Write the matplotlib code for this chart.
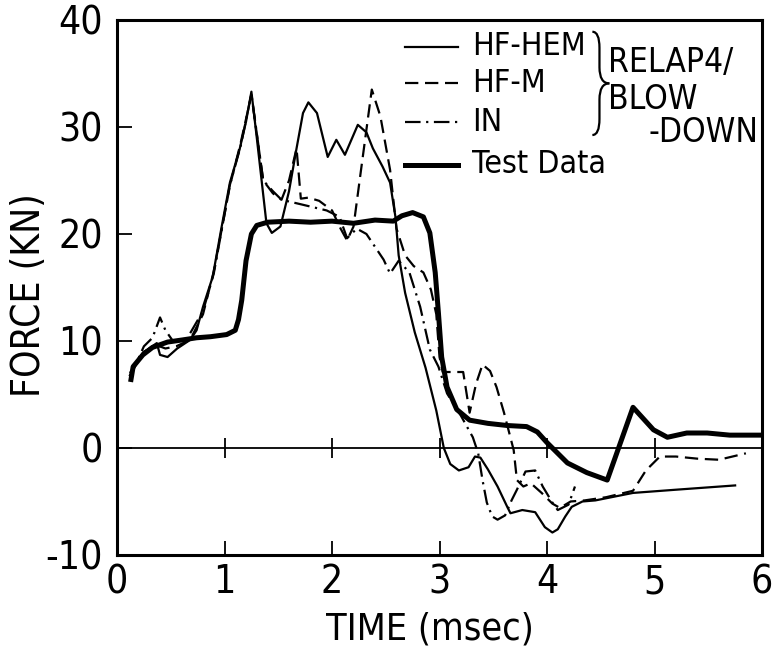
import matplotlib
matplotlib.use('Agg')
import matplotlib.pyplot as plt
from matplotlib.path import Path
from matplotlib.patches import PathPatch

plt.rcParams['font.family'] = ['DejaVu Sans']
plt.rcParams['font.stretch'] = 'condensed'

# HF-HEM (thin solid)
hem_t = [0.12, 0.24, 0.37, 0.40, 0.47, 0.56, 0.68, 0.74, 0.80, 0.89, 0.97, 1.05, 1.14, 1.20, 1.25,
         1.30, 1.39, 1.44, 1.52, 1.60, 1.67, 1.73, 1.78, 1.86, 1.96, 2.04, 2.12, 2.24, 2.32, 2.38,
         2.47, 2.54, 2.59, 2.62, 2.68, 2.77, 2.87, 2.97, 3.04, 3.10, 3.18, 3.27, 3.33, 3.38, 3.45,
         3.54, 3.63, 3.66, 3.77, 3.89, 3.98, 4.05, 4.10, 4.17, 4.23, 4.33, 4.45, 4.80, 5.20, 5.75]
hem_f = [6.8, 8.9, 9.8, 8.7, 8.5, 9.3, 10.1, 11.0, 13.2, 16.0, 20.5, 24.8, 27.9, 30.5, 33.3,
         29.0, 21.0, 20.1, 20.7, 24.0, 28.0, 31.3, 32.3, 31.3, 27.2, 28.8, 27.4, 30.2, 29.5, 28.0,
         26.3, 24.8, 21.6, 18.0, 14.5, 10.8, 7.5, 3.5, 0.0, -1.5, -2.1, -1.8, -0.8, -0.9, -2.0,
         -3.6, -5.5, -6.1, -5.8, -6.0, -7.4, -7.9, -7.6, -6.4, -5.5, -5.0, -4.9, -4.2, -3.9, -3.5]

# HF-M (dashed)
hfm_t = [0.12, 0.25, 0.37, 0.45, 0.55, 0.68, 0.80, 0.90, 1.05, 1.15, 1.25, 1.36, 1.45, 1.53, 1.60,
         1.67, 1.71, 1.78, 1.88, 2.00, 2.08, 2.14, 2.20, 2.27, 2.37, 2.45, 2.54, 2.60, 2.68, 2.76,
         2.85, 2.92, 2.97, 3.00, 3.03, 3.12, 3.22, 3.28, 3.34, 3.40, 3.47, 3.53, 3.60, 3.69, 3.72,
         3.78, 3.85, 3.95, 4.05, 4.12, 4.22, 4.35, 4.55, 4.80, 4.92, 5.05, 5.20, 5.40, 5.60, 5.85]
hfm_f = [7.0, 9.0, 9.6, 9.3, 9.5, 10.1, 12.5, 16.5, 24.5, 28.5, 33.0, 25.0, 23.8, 23.2, 25.0,
         28.0, 23.3, 23.4, 23.1, 22.2, 20.5, 19.4, 20.7, 26.0, 33.5, 31.0, 26.0, 20.5, 18.0, 17.0,
         16.4, 14.8, 12.5, 8.5, 7.1, 7.1, 7.1, 3.3, 6.0, 7.8, 7.2, 5.7, 3.3, -0.2, -3.0,
         -3.6, -3.3, -4.2, -5.2, -5.6, -5.0, -4.9, -4.6, -4.0, -2.1, -0.8, -0.8, -1.0, -1.1, -0.5]

# IN (dash-dot)
in_t = [0.12, 0.25, 0.33, 0.40, 0.45, 0.52, 0.65, 0.80, 0.90, 1.05, 1.15, 1.25, 1.36, 1.45, 1.53,
        1.70, 1.95, 2.07, 2.14, 2.23, 2.32, 2.48, 2.54, 2.62, 2.72, 2.82, 2.91, 2.99, 3.07, 3.20,
        3.31, 3.36, 3.40, 3.44, 3.49, 3.54, 3.61, 3.67, 3.72, 3.80, 3.89, 3.96, 4.05, 4.10, 4.20, 4.26]
in_f = [6.6, 9.5, 10.3, 12.2, 11.0, 10.0, 10.2, 12.8, 16.3, 24.6, 28.2, 33.1, 25.0, 24.0, 23.2,
        22.8, 22.2, 21.6, 19.6, 20.5, 20.0, 17.6, 16.3, 17.5, 16.4, 13.2, 9.2, 7.6, 5.1, 3.0,
        1.0, -0.5, -3.0, -5.1, -6.4, -6.7, -6.3, -4.9, -3.9, -2.2, -2.1, -3.6, -5.1, -5.8, -5.3, -3.6]

# Test data (thick solid)
test_t = [0.13, 0.15, 0.24, 0.33, 0.47, 0.61, 0.74, 0.87, 1.02, 1.10, 1.13, 1.16, 1.20, 1.25, 1.30,
          1.40, 1.60, 1.80, 2.00, 2.20, 2.40, 2.57, 2.65, 2.75, 2.85, 2.91, 2.96, 2.99, 3.02, 3.07,
          3.16, 3.28, 3.45, 3.63, 3.81, 3.91, 4.00, 4.19, 4.37, 4.56, 4.80, 4.99, 5.12, 5.30, 5.49,
          5.70, 5.98]
test_f = [6.4, 7.6, 8.7, 9.4, 9.9, 10.1, 10.3, 10.4, 10.6, 11.0, 12.0, 13.8, 17.5, 20.0, 20.8,
          21.1, 21.2, 21.1, 21.2, 21.0, 21.3, 21.2, 21.7, 22.0, 21.6, 20.1, 16.4, 12.6, 8.5, 5.7,
          3.6, 2.6, 2.3, 2.1, 2.0, 1.5, 0.5, -1.4, -2.3, -3.0, 3.8, 1.7, 1.0, 1.4, 1.4,
          1.2, 1.2]

legend_labels = ['HF-HEM', 'HF-M', 'IN', 'Test Data']
x_ticks = [0, 1, 2, 3, 4, 5, 6]
y_ticks = [-10, 0, 10, 20, 30, 40]

fig = plt.figure(figsize=(7.74, 6.51), dpi=100)
ax = fig.add_axes([0.1512, 0.1475, 0.8333, 0.8218])

thin = 1.6
ax.plot(hem_t, hem_f, color='black', lw=thin)
ax.plot(hfm_t, hfm_f, color='black', lw=thin, dashes=(6, 3))
ax.plot(in_t, in_f, color='black', lw=thin, dashes=(7, 2.5, 1, 2.5))
ax.plot(test_t, test_f, color='black', lw=3.6, solid_joinstyle='round')

# zero line with crossing ticks
ax.axhline(0, color='black', lw=1.3)
ax.vlines(x_ticks[1:-1], -0.9, 0.9, color='black', lw=1.3)

ax.set_xlim(0, 6)
ax.set_ylim(-10, 40)
ax.set_xticks(x_ticks)
ax.set_yticks(y_ticks)
ax.set_xticklabels([str(v) for v in x_ticks])
ax.set_yticklabels([str(v) for v in y_ticks])
ax.tick_params(axis='x', direction='in', length=10, width=1.3, labelsize=28, pad=6)
ax.tick_params(axis='y', direction='in', length=11, width=1.3, labelsize=28, pad=10)
for s in ax.spines.values():
    s.set_linewidth(2.2)

ax.set_xlabel('TIME (msec)', fontsize=27)
ax.set_ylabel('FORCE (KN)', fontsize=28)
ax.xaxis.set_label_coords(0.485, -0.105)
ax.yaxis.set_label_coords(-0.107, 0.486)

# hand-drawn style legend
rows = [0.950, 0.882, 0.809, 0.729]
styles = [dict(lw=thin), dict(lw=thin, dashes=(6, 3)),
          dict(lw=thin, dashes=(7, 2.5, 1, 2.5)), dict(lw=3.6)]
for y, lab, st in zip(rows, legend_labels, styles):
    ax.plot([0.447, 0.529], [y, y], color='black', transform=ax.transAxes, **st)
    ax.text(0.550, y, lab, transform=ax.transAxes, fontsize=23, va='center', ha='left')

# curly brace grouping the three code results, drawn as two halves
bx, top, bot = 0.737, 0.978, 0.785
mid = (top + bot) / 2
w = 0.011
upper = Path([(bx, top), (bx + w, top), (bx + w, top - 0.03),
              (bx + w, mid + 0.03), (bx + w, mid), (bx + 2.4 * w, mid)],
             [Path.MOVETO, Path.CURVE3, Path.CURVE3,
              Path.LINETO, Path.CURVE3, Path.CURVE3])
lower = Path([(bx + 2.4 * w, mid), (bx + w, mid), (bx + w, mid - 0.03),
              (bx + w, bot + 0.03), (bx + w, bot), (bx, bot)],
             [Path.MOVETO, Path.CURVE3, Path.CURVE3,
              Path.LINETO, Path.CURVE3, Path.CURVE3])
for p in (upper, lower):
    ax.add_patch(PathPatch(p, transform=ax.transAxes, fill=False, lw=1.6, color='black'))

ax.text(0.762, 0.921, 'RELAP4/', transform=ax.transAxes, fontsize=24, va='center', ha='left')
ax.text(0.762, 0.852, 'BLOW', transform=ax.transAxes, fontsize=24, va='center', ha='left')
ax.text(0.994, 0.790, '-DOWN', transform=ax.transAxes, fontsize=24, va='center', ha='right')

fig.savefig('out.png', dpi=100)
